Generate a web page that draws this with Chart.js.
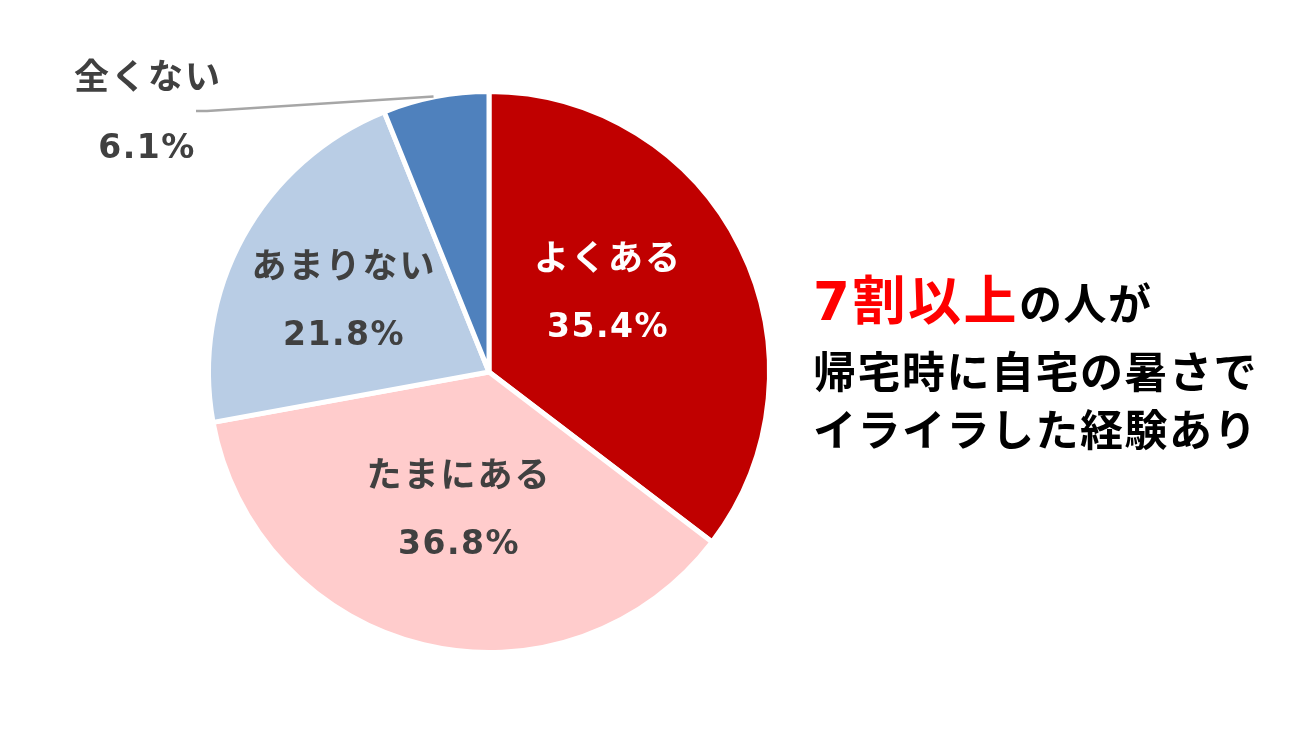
<!DOCTYPE html>
<html>
<head>
<meta charset="utf-8">
<script src="https://cdn.jsdelivr.net/npm/chart.js@4"></script>
<style>
  body { margin: 0; background: #fff; }
  canvas { display: block; }
</style>
</head>
<body>
<canvas id="chart" width="1306" height="744"></canvas>
<script>
// データ
const categories = ['よくある', 'たまにある', 'あまりない', '全くない'];
const percents = [35.4, 36.8, 21.8, 6.1];
const sliceColors = ['#C00000', '#FFCCCC', '#B9CDE5', '#4F81BD'];
const labelColors = ['#FFFFFF', '#404040', '#404040', '#404040'];
const messageLines = [
  [{ text: '7割以上', red: true }, { text: 'の人が' }],
  [{ text: '帰宅時に自宅の暑さで' }],
  [{ text: 'イライラした経験あり' }]
];

const FONT = '"DejaVu Sans", "Noto Sans CJK JP", sans-serif';
const JP_FONT = '"Noto Sans CJK JP", sans-serif';

// ラベル位置（中心からのずれ）
const labelOffsets = [
  { dx: 119, dy: -80 },
  { dx: -30, dy: 137 },
  { dx: -145, dy: -72 },
  null
];

const labelPlugin = {
  id: 'labels',
  afterDatasetsDraw(chart) {
    const ctx = chart.ctx;
    const arcs = chart.getDatasetMeta(0).data;
    const cx = arcs[0].x;
    const cy = arcs[0].y;
    ctx.save();
    ctx.textAlign = 'center';
    ctx.textBaseline = 'middle';

    arcs.forEach(function(arc, i) {
      const name = categories[i];
      const value = percents[i].toFixed(1) + '%';
      ctx.fillStyle = labelColors[i];
      const off = labelOffsets[i];
      let nx, ny, vx, vy;
      if (off) {
        nx = cx + off.dx; ny = cy + off.dy - 35;
        vx = cx + off.dx; vy = cy + off.dy + 36;
      } else {
        // 外側のラベルと引き出し線
        const mid = (arc.startAngle + arc.endAngle) / 2;
        const px = cx + Math.cos(mid) * (arc.outerRadius - 10);
        const py = cy + Math.sin(mid) * (arc.outerRadius - 10);
        ctx.strokeStyle = '#A6A6A6';
        ctx.lineWidth = 2.5;
        ctx.beginPath();
        ctx.moveTo(px - 4, py - 10);
        ctx.lineTo(cx - 282, cy - 261);
        ctx.lineTo(cx - 293, cy - 261);
        ctx.stroke();
        nx = cx - 341; ny = cy - 296;
        vx = cx - 342; vy = cy - 223;
      }
      ctx.font = 'bold 35px ' + JP_FONT;
      ctx.letterSpacing = '2px';
      ctx.fillText(name, nx, ny);
      ctx.font = 'bold 33px ' + FONT;
      ctx.letterSpacing = '1.5px';
      ctx.fillText(value, vx, vy);
    });

    // 右側のメッセージ
    ctx.textAlign = 'left';
    ctx.textBaseline = 'alphabetic';
    const baselines = [320, 388, 446];
    messageLines.forEach(function(line, r) {
      let x = 813;
      line.forEach(function(part) {
        ctx.font = (part.red ? 'bold 53px ' : 'bold 43px ') + FONT;
        ctx.letterSpacing = part.red ? '2.5px' : '1.5px';
        ctx.fillStyle = part.red ? '#FF0000' : '#000000';
        ctx.fillText(part.text, x, baselines[r]);
        x += ctx.measureText(part.text).width;
      });
    });
    ctx.restore();
  }
};

const chart = new Chart(document.getElementById('chart'), {
  type: 'pie',
  data: {
    labels: categories,
    datasets: [{
      data: percents,
      backgroundColor: sliceColors,
      borderColor: '#FFFFFF',
      borderWidth: 5
    }]
  },
  options: {
    responsive: false,
    animation: false,
    layout: {
      padding: { left: 206, right: 534, top: 89, bottom: 89 }
    },
    plugins: {
      legend: { display: false },
      tooltip: { enabled: false },
      title: { display: false }
    }
  },
  plugins: [labelPlugin]
});
</script>
</body>
</html>
